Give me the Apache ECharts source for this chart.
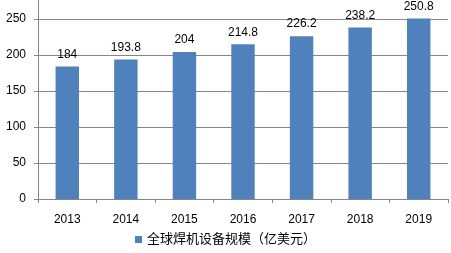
<!DOCTYPE html>
<html><head><meta charset="utf-8">
<script src="https://cdn.jsdelivr.net/npm/echarts@6/dist/echarts.min.js"></script>
<style>html,body{margin:0;padding:0;background:#fff}#c{width:451px;height:253px}</style>
</head><body><div id="c"></div>
<script>
var categories = ['2013','2014','2015','2016','2017','2018','2019'];
var values = [184, 193.8, 204, 214.8, 226.2, 238.2, 250.8];
var seriesName = '全球焊机设备规模（亿美元）';
var yTicks = {min: 0, max: 300, interval: 50};
var font = 'Arial, "Liberation Sans", "Noto Sans CJK SC", sans-serif';
var chart = echarts.init(document.getElementById('c'), null, {renderer: 'canvas'});
chart.setOption({
  animation: false,
  textStyle: {fontFamily: font},
  grid: {left: 38, right: 3, top: -17, bottom: 54, containLabel: false, outerBoundsMode: 'none'},
  legend: {
    data: [seriesName], bottom: 2, left: 'center', itemWidth: 7, itemHeight: 7, itemGap: 4,
    icon: 'rect',
    textStyle: {fontSize: 13, color: '#000', fontFamily: font}
  },
  xAxis: {
    type: 'category', data: categories,
    axisLine: {lineStyle: {color: '#868686'}},
    axisTick: {show: true, length: 4, lineStyle: {color: '#868686'}},
    axisLabel: {fontSize: 12, color: '#000', margin: 15, fontFamily: font}
  },
  yAxis: {
    type: 'value', min: yTicks.min, max: yTicks.max, interval: yTicks.interval,
    axisLine: {show: true, lineStyle: {color: '#868686'}},
    axisTick: {show: true, length: 4, lineStyle: {color: '#868686'}},
    splitLine: {lineStyle: {color: '#868686'}},
    axisLabel: {fontSize: 12, color: '#000', margin: 12, fontFamily: font}
  },
  series: [{
    name: seriesName, type: 'bar', data: values, barWidth: '40%',
    itemStyle: {color: '#4F81BD'},
    label: {show: true, position: 'top', distance: 6, fontSize: 12, color: '#000', fontFamily: font}
  }]
});
</script></body></html>
